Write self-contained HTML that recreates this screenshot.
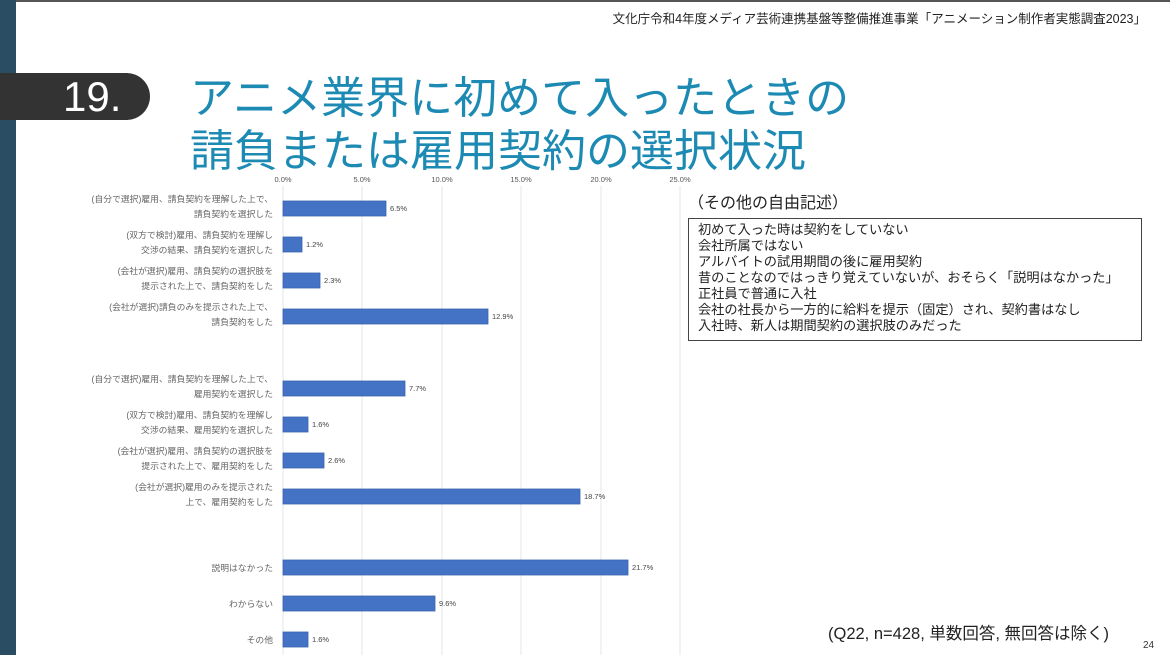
<!DOCTYPE html>
<html><head><meta charset="utf-8"><style>
html,body{margin:0;padding:0;}
body{width:1170px;height:655px;position:relative;overflow:hidden;background:#fff;font-family:"Liberation Sans","Noto Sans CJK JP",sans-serif;}
.abs{position:absolute;white-space:nowrap;}
</style></head><body>
<div class="abs" style="left:0;top:0;width:1170px;height:2px;background:#555;"></div>
<div class="abs" style="left:0;top:0;width:16px;height:655px;background:#2b4d63;"></div>
<div class="abs" style="right:24px;top:8px;font-size:12.5px;color:#222;">文化庁令和4年度メディア芸術連携基盤等整備推進事業「アニメーション制作者実態調査2023」</div>
<div class="abs" style="left:0;top:73px;width:150px;height:47px;background:#333;border-radius:0 24px 24px 0;"></div>
<div class="abs" style="left:63px;top:74px;font-size:42px;color:#fff;line-height:46px;">19.</div>
<div class="abs" style="left:190px;top:72px;font-size:44px;color:#1d8ab3;line-height:53px;">アニメ業界に初めて入ったときの<br>請負または雇用契約の選択状況</div>

<svg class="abs" style="left:0;top:0" width="1170" height="655" font-family="Liberation Sans, Noto Sans CJK JP, sans-serif">
<g stroke="#e4e4e4" stroke-width="1">
<line x1="283" y1="186" x2="283" y2="655"/><line x1="362" y1="186" x2="362" y2="655"/><line x1="442" y1="186" x2="442" y2="655"/><line x1="521" y1="186" x2="521" y2="655"/><line x1="601" y1="186" x2="601" y2="655"/><line x1="680" y1="186" x2="680" y2="655"/>
</g>
<g font-size="7.5" fill="#555" text-anchor="middle">
<text x="283" y="182">0.0%</text><text x="362" y="182">5.0%</text><text x="442" y="182">10.0%</text><text x="521" y="182">15.0%</text><text x="601" y="182">20.0%</text><text x="680" y="182">25.0%</text>
</g>
<g fill="#4472c4" stroke="#3a64b0" stroke-width="0.8">
<rect x="283" y="201" width="103" height="15"/>
<rect x="283" y="237" width="19" height="15"/>
<rect x="283" y="273" width="37" height="15"/>
<rect x="283" y="309" width="205" height="15"/>
<rect x="283" y="381" width="122" height="15"/>
<rect x="283" y="417" width="25" height="15"/>
<rect x="283" y="453" width="41" height="15"/>
<rect x="283" y="489" width="297" height="15"/>
<rect x="283" y="560" width="345" height="15"/>
<rect x="283" y="596" width="152" height="15"/>
<rect x="283" y="632" width="25" height="15"/>
</g>
<g font-size="7.5" fill="#444">
<text x="390" y="211">6.5%</text><text x="306" y="247">1.2%</text><text x="324" y="283">2.3%</text><text x="492" y="319">12.9%</text>
<text x="409" y="391">7.7%</text><text x="312" y="427">1.6%</text><text x="328" y="463">2.6%</text><text x="584" y="499">18.7%</text>
<text x="632" y="570">21.7%</text><text x="439" y="606">9.6%</text><text x="312" y="642">1.6%</text>
</g>
<g font-size="8.8" fill="#666" text-anchor="end">
<text x="273" y="202">(自分で選択)雇用、請負契約を理解した上で、</text><text x="273" y="217">請負契約を選択した</text>
<text x="273" y="238">(双方で検討)雇用、請負契約を理解し</text><text x="273" y="253">交渉の結果、請負契約を選択した</text>
<text x="273" y="274">(会社が選択)雇用、請負契約の選択肢を</text><text x="273" y="289">提示された上で、請負契約をした</text>
<text x="273" y="310">(会社が選択)請負のみを提示された上で、</text><text x="273" y="325">請負契約をした</text>
<text x="273" y="382">(自分で選択)雇用、請負契約を理解した上で、</text><text x="273" y="397">雇用契約を選択した</text>
<text x="273" y="418">(双方で検討)雇用、請負契約を理解し</text><text x="273" y="433">交渉の結果、雇用契約を選択した</text>
<text x="273" y="454">(会社が選択)雇用、請負契約の選択肢を</text><text x="273" y="469">提示された上で、雇用契約をした</text>
<text x="273" y="490">(会社が選択)雇用のみを提示された</text><text x="273" y="505">上で、雇用契約をした</text>
<text x="273" y="571">説明はなかった</text>
<text x="273" y="607">わからない</text>
<text x="273" y="643">その他</text>
</g>
</svg>

<div class="abs" style="left:688px;top:189px;font-size:16px;color:#222;">（その他の自由記述）</div>
<div class="abs" style="left:688px;top:218px;width:454px;height:123px;border:1px solid #444;box-sizing:border-box;padding:3px 0 0 9px;font-size:13.2px;line-height:16px;color:#222;">初めて入った時は契約をしていない<br>会社所属ではない<br>アルバイトの試用期間の後に雇用契約<br>昔のことなのではっきり覚えていないが、おそらく「説明はなかった」<br>正社員で普通に入社<br>会社の社長から一方的に給料を提示（固定）され、契約書はなし<br>入社時、新人は期間契約の選択肢のみだった</div>
<div class="abs" style="left:828px;top:620px;font-size:16.5px;color:#222;">(Q22, n=428, 単数回答, 無回答は除く)</div>
<div class="abs" style="left:1143px;top:640px;font-size:10px;color:#333;">24</div>
</body></html>
